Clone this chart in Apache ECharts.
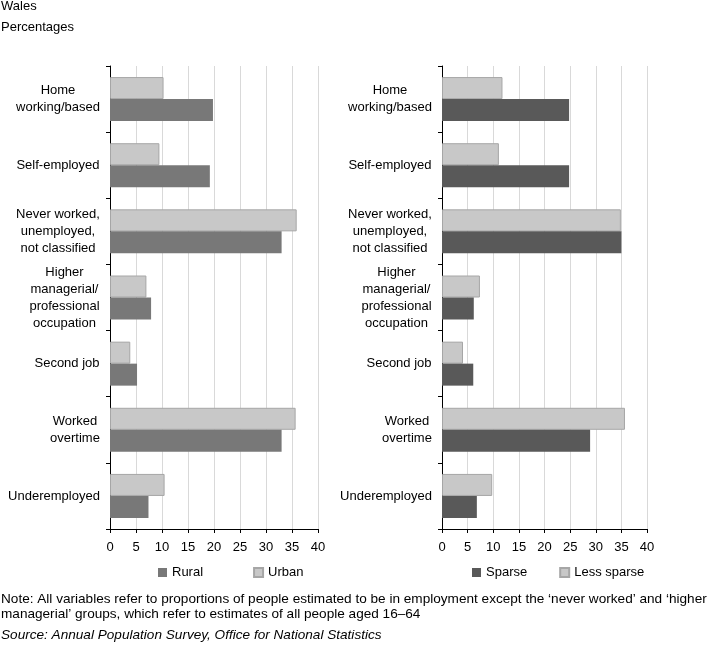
<!DOCTYPE html>
<html lang="en">
<head>
<meta charset="UTF-8">
<title>Wales</title>
<script src="https://cdn.jsdelivr.net/npm/echarts@6/dist/echarts.min.js"></script>
<style>
    html, body { margin: 0; padding: 0; background: #fff; }
    #main { width: 716px; height: 645px; }
</style>
</head>
<body>
<div id="main"></div>
<script type="text/javascript">
    // categories, top to bottom
    var categories = [
        'Home\nworking/based',
        'Self-employed',
        'Never worked,\nunemployed,\nnot classified',
        'Higher\nmanagerial/\nprofessional\noccupation',
        'Second job',
        'Worked\novertime',
        'Underemployed'
    ];
    // left panel
    var rural = [19.8, 19.2, 33.0, 7.9, 5.2, 33.0, 7.4];
    var urban = [10.3, 9.5, 35.9, 7.0, 3.9, 35.7, 10.5];
    // right panel
    var sparse = [24.8, 24.8, 35.0, 6.2, 6.1, 28.9, 6.8];
    var lessSparse = [11.8, 11.1, 34.9, 7.4, 4.1, 35.7, 9.8];
    // x axis ticks
    var xMin = 0, xMax = 40, xStep = 5;

    var FONT = '"Liberation Sans", Arial, sans-serif';

    // labels: right-aligned block, lines centred inside it
    var ctx = document.createElement('canvas').getContext('2d');
    ctx.font = '13px "Liberation Sans"';
    var rich = {};
    categories.forEach(function (c, i) {
        var w = 0;
        c.split('\n').forEach(function (l) { w = Math.max(w, ctx.measureText(l).width); });
        rich['r' + i] = { width: Math.ceil(w), align: 'center', fontSize: 13, lineHeight: 17, color: '#000', fontFamily: FONT };
    });
    function catLabel(value, idx) {
        return value.split('\n').map(function (l) { return '{r' + idx + '|' + l + '}'; }).join('\n');
    }

    function xAxisOpt(gi) {
        return {
            type: 'value', gridIndex: gi, min: xMin, max: xMax, interval: xStep,
            axisLine: { show: true, lineStyle: { color: '#000', width: 1 } },
            axisTick: { show: true, length: 4, lineStyle: { color: '#000' } },
            axisLabel: { color: '#000', fontSize: 13, fontFamily: FONT, margin: 12 },
            splitLine: { show: true, lineStyle: { color: '#d9d9d9', width: 1 } }
        };
    }
    function yAxisOpt(gi) {
        return {
            type: 'category', gridIndex: gi, data: categories, inverse: true,
            axisLine: { show: true, lineStyle: { color: '#000', width: 1 } },
            axisTick: { show: true, length: 4, lineStyle: { color: '#000' } },
            axisLabel: { formatter: catLabel, rich: rich, align: 'right', margin: 10 },
            splitLine: { show: false }
        };
    }
    function barSeries(name, data, gi, color, border) {
        return {
            type: 'bar', name: name, data: data,
            xAxisIndex: gi, yAxisIndex: gi,
            barWidth: 22, barGap: '0%',
            itemStyle: { color: color, borderColor: border || color, borderWidth: border ? 1 : 0 },
            emphasis: { disabled: true }
        };
    }

    var myChart = echarts.init(document.getElementById('main'));
    var option = {
        animation: false,
        backgroundColor: '#fff',
        grid: [
            { left: 110, top: 66, width: 208, height: 463 },
            { left: 442, top: 66, width: 205, height: 463 }
        ],
        xAxis: [xAxisOpt(0), xAxisOpt(1)],
        yAxis: [yAxisOpt(0), yAxisOpt(1)],
        legend: [
            {
                data: ['Rural', 'Urban'], left: 153, top: 561,
                icon: 'rect', itemWidth: 9, itemHeight: 9, itemGap: 50,
                textStyle: { fontSize: 13, color: '#000', fontFamily: FONT }
            },
            {
                data: ['Sparse', 'Less sparse'], left: 467, top: 561,
                icon: 'rect', itemWidth: 9, itemHeight: 9, itemGap: 32,
                textStyle: { fontSize: 13, color: '#000', fontFamily: FONT }
            }
        ],
        series: [
            barSeries('Urban', urban, 0, '#c8c8c8', '#a6a6a6'),
            barSeries('Rural', rural, 0, '#787878'),
            barSeries('Less sparse', lessSparse, 1, '#c8c8c8', '#a6a6a6'),
            barSeries('Sparse', sparse, 1, '#595959')
        ],
        graphic: [
            { type: 'text', left: 1, top: 0, style: { text: 'Wales', fontSize: 13, fill: '#000', fontFamily: FONT } },
            { type: 'text', left: 1, top: 21, style: { text: 'Percentages', fontSize: 13, fill: '#000', fontFamily: FONT } },
            { type: 'text', left: 1, top: 592, style: { text: 'Note: All variables refer to proportions of people estimated to be in employment except the \u2018never worked\u2019 and \u2018higher', fontSize: 13.6, fill: '#000', fontFamily: FONT } },
            { type: 'text', left: 1, top: 607, style: { text: 'managerial\u2019 groups, which refer to estimates of all people aged 16\u201364', fontSize: 13.6, fill: '#000', fontFamily: FONT } },
            { type: 'text', left: 1, top: 628, style: { text: 'Source: Annual Population Survey, Office for National Statistics', fontSize: 13.6, fontStyle: 'italic', fill: '#000', fontFamily: FONT } }
        ]
    };
    myChart.setOption(option);
</script>
</body>
</html>
